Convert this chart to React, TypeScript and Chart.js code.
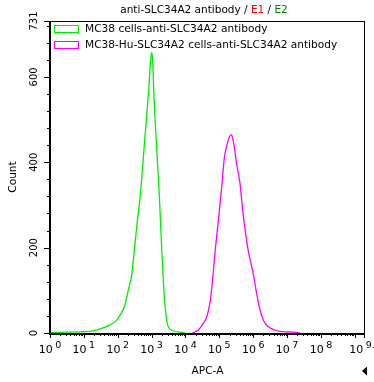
import React, { useEffect, useRef } from "react";
import { Chart, registerables } from "chart.js";

Chart.register(...registerables);

// ---- data (x values are log10 of APC-A intensity) ----
const greenLog = [0, 0.5, 1.0, 1.27, 1.57, 1.77, 1.92, 2.07, 2.21, 2.31, 2.41, 2.51, 2.58, 2.66, 2.8, 2.92, 2.97, 3.0, 3.03, 3.07, 3.15, 3.23, 3.3, 3.35, 3.4, 3.46, 3.59, 3.84, 4.0];
const greenCount = [1, 2, 3, 5, 12, 19, 26, 42, 65, 100, 135, 210, 264, 318, 456, 577, 640, 657, 640, 553, 433, 318, 194, 117, 61, 23, 7, 2, 0];
const magentaLog = [4.21, 4.38, 4.53, 4.63, 4.72, 4.8, 4.87, 4.97, 5.07, 5.15, 5.22, 5.29, 5.35, 5.41, 5.51, 5.61, 5.71, 5.85, 6.0, 6.1, 6.2, 6.3, 6.44, 6.64, 6.84, 7.18, 7.38];
const magentaCount = [0, 7, 23, 38, 70, 124, 187, 264, 342, 412, 439, 458, 465, 451, 396, 350, 272, 194, 139, 93, 54, 30, 15, 7, 3, 2, 0];

const seriesNames = ["MC38 cells-anti-SLC34A2 antibody", "MC38-Hu-SLC34A2 cells-anti-SLC34A2 antibody"];
const seriesColors = ["#00ee00", "#ff00ff"];

const xTickPositions = [0, 1, 2, 3, 4, 5, 6, 7, 8, 9.3];
const xTickExponents = ["0", "1", "2", "3", "4", "5", "6", "7", "8", "9.3"];
const yTickValues = [0, 200, 400, 600, 731];
const yMinorStep = 40;
const xMax = 9.3;
const yMax = 731;

const titleParts = [
  { text: "anti-SLC34A2 antibody / ", color: "#000000" },
  { text: "E1", color: "#ff0000" },
  { text: " / ", color: "#000000" },
  { text: "E2", color: "#008000" },
];
const xTitle = "APC-A";
const yTitle = "Count";

const FONT = '"DejaVu Sans", sans-serif';

const decorPlugin = {
  id: "decor",
  afterDraw(chart: any) {
    const ctx = chart.ctx as CanvasRenderingContext2D;
    const a = chart.chartArea;
    const xs = chart.scales.x;
    const ys = chart.scales.y;
    ctx.save();
    ctx.strokeStyle = "#000";
    ctx.fillStyle = "#000";

    // frame
    ctx.lineWidth = 1;
    ctx.strokeRect(a.left + 0.5, a.top + 0.5, a.right - a.left - 1, a.bottom - a.top);
    ctx.lineWidth = 2;
    ctx.beginPath();
    ctx.moveTo(a.left, a.top);
    ctx.lineTo(a.left, a.bottom + 1);
    ctx.lineTo(a.right, a.bottom + 1);
    ctx.stroke();

    // y ticks
    ctx.lineWidth = 1;
    ctx.beginPath();
    for (const v of yTickValues) {
      const y = Math.round(ys.getPixelForValue(v)) + 0.5;
      ctx.moveTo(a.left - 6, y);
      ctx.lineTo(a.left, y);
    }
    for (let v = yMinorStep; v < yMax; v += yMinorStep) {
      if (v % 200 === 0) continue;
      const y = Math.round(ys.getPixelForValue(v)) + 0.5;
      ctx.moveTo(a.left - 3, y);
      ctx.lineTo(a.left, y);
    }
    ctx.stroke();

    // y labels
    ctx.font = "10px " + FONT;
    ctx.textAlign = "center";
    ctx.textBaseline = "middle";
    for (const v of yTickValues) {
      const y = ys.getPixelForValue(v);
      ctx.save();
      ctx.translate(a.left - 16, y);
      ctx.rotate(-Math.PI / 2);
      ctx.fillText(String(v), 0, 0);
      ctx.restore();
    }

    // x ticks
    ctx.beginPath();
    for (let d = 0; d <= 9; d++) {
      const x = Math.round(xs.getPixelForValue(d)) + 0.5;
      ctx.moveTo(x, a.bottom);
      ctx.lineTo(x, a.bottom + 5);
      for (let k = 2; k <= 9; k++) {
        const p = d + Math.log10(k);
        if (p >= xMax) break;
        const xm = Math.round(xs.getPixelForValue(p)) + 0.5;
        ctx.moveTo(xm, a.bottom);
        ctx.lineTo(xm, a.bottom + 3);
      }
    }
    const xe = Math.round(xs.getPixelForValue(xMax)) - 0.5;
    ctx.moveTo(xe, a.bottom);
    ctx.lineTo(xe, a.bottom + 5);
    ctx.stroke();

    // x labels 10^n, centred as a whole on the tick
    ctx.textBaseline = "alphabetic";
    ctx.textAlign = "left";
    xTickPositions.forEach((p, i) => {
      const x = xs.getPixelForValue(p);
      ctx.font = "11px " + FONT;
      const wBase = ctx.measureText("10").width;
      ctx.font = "9.5px " + FONT;
      const wExp = ctx.measureText(xTickExponents[i]).width;
      const gap = 2.5;
      const start = x - (wBase + gap + wExp) / 2;
      ctx.font = "11px " + FONT;
      ctx.fillText("10", start, 353);
      ctx.font = "9.5px " + FONT;
      ctx.fillText(xTickExponents[i], start + wBase + gap, 348);
    });

    // axis titles
    ctx.font = "10.6px " + FONT;
    ctx.textAlign = "center";
    ctx.textBaseline = "middle";
    ctx.fillText(xTitle, (a.left + a.right) / 2, 371);
    ctx.save();
    ctx.translate(13, (a.top + a.bottom) / 2);
    ctx.rotate(-Math.PI / 2);
    ctx.fillText(yTitle, 0, 0);
    ctx.restore();

    // title
    ctx.font = "10.5px " + FONT;
    ctx.textAlign = "left";
    const total = titleParts.reduce((s, t) => s + ctx.measureText(t.text).width, 0);
    let tx = 204 - total / 2;
    for (const t of titleParts) {
      ctx.fillStyle = t.color;
      ctx.fillText(t.text, tx, 10.5);
      tx += ctx.measureText(t.text).width;
    }

    // legend
    ctx.font = "10.6px " + FONT;
    ctx.lineWidth = 1;
    seriesNames.forEach((name, i) => {
      const cy = 29 + i * 16;
      ctx.strokeStyle = seriesColors[i];
      ctx.strokeRect(54.5, cy - 3.5, 24, 7);
      ctx.fillStyle = "#000";
      ctx.textAlign = "left";
      ctx.fillText(name, 85, cy);
    });

    // small triangle marker
    ctx.fillStyle = "#000";
    ctx.beginPath();
    ctx.moveTo(362, 371);
    ctx.lineTo(367, 366.5);
    ctx.lineTo(367, 375.5);
    ctx.closePath();
    ctx.fill();

    ctx.restore();
  },
};

export default function App() {
  const ref = useRef<HTMLCanvasElement | null>(null);
  useEffect(() => {
    if (!ref.current) return;
    const toPts = (xsArr: number[], ysArr: number[]) => xsArr.map((x, i) => ({ x, y: ysArr[i] }));
    const chart = new Chart(ref.current, {
      type: "line",
      data: {
        datasets: [
          {
            label: seriesNames[0],
            data: toPts(greenLog, greenCount),
            borderColor: seriesColors[0],
            borderWidth: 1.3,
            pointRadius: 0,
            cubicInterpolationMode: "monotone",
            fill: false,
          },
          {
            label: seriesNames[1],
            data: toPts(magentaLog, magentaCount),
            borderColor: seriesColors[1],
            borderWidth: 1.3,
            pointRadius: 0,
            cubicInterpolationMode: "monotone",
            fill: false,
          },
        ],
      },
      options: {
        responsive: false,
        animation: false,
        layout: { padding: { left: 50, right: 9, top: 21, bottom: 49 } },
        scales: {
          x: { type: "linear", min: 0, max: xMax, display: false },
          y: { type: "linear", min: 0, max: yMax, display: false },
        },
        plugins: { legend: { display: false }, title: { display: false }, tooltip: { enabled: false } },
      },
      plugins: [decorPlugin],
    });
    return () => chart.destroy();
  }, []);
  return (
    <div style={{ position: "fixed", left: 0, top: 0, width: 374, height: 382, background: "#fff" }}>
      <canvas ref={ref} width={374} height={382} style={{ display: "block" }} />
    </div>
  );
}
